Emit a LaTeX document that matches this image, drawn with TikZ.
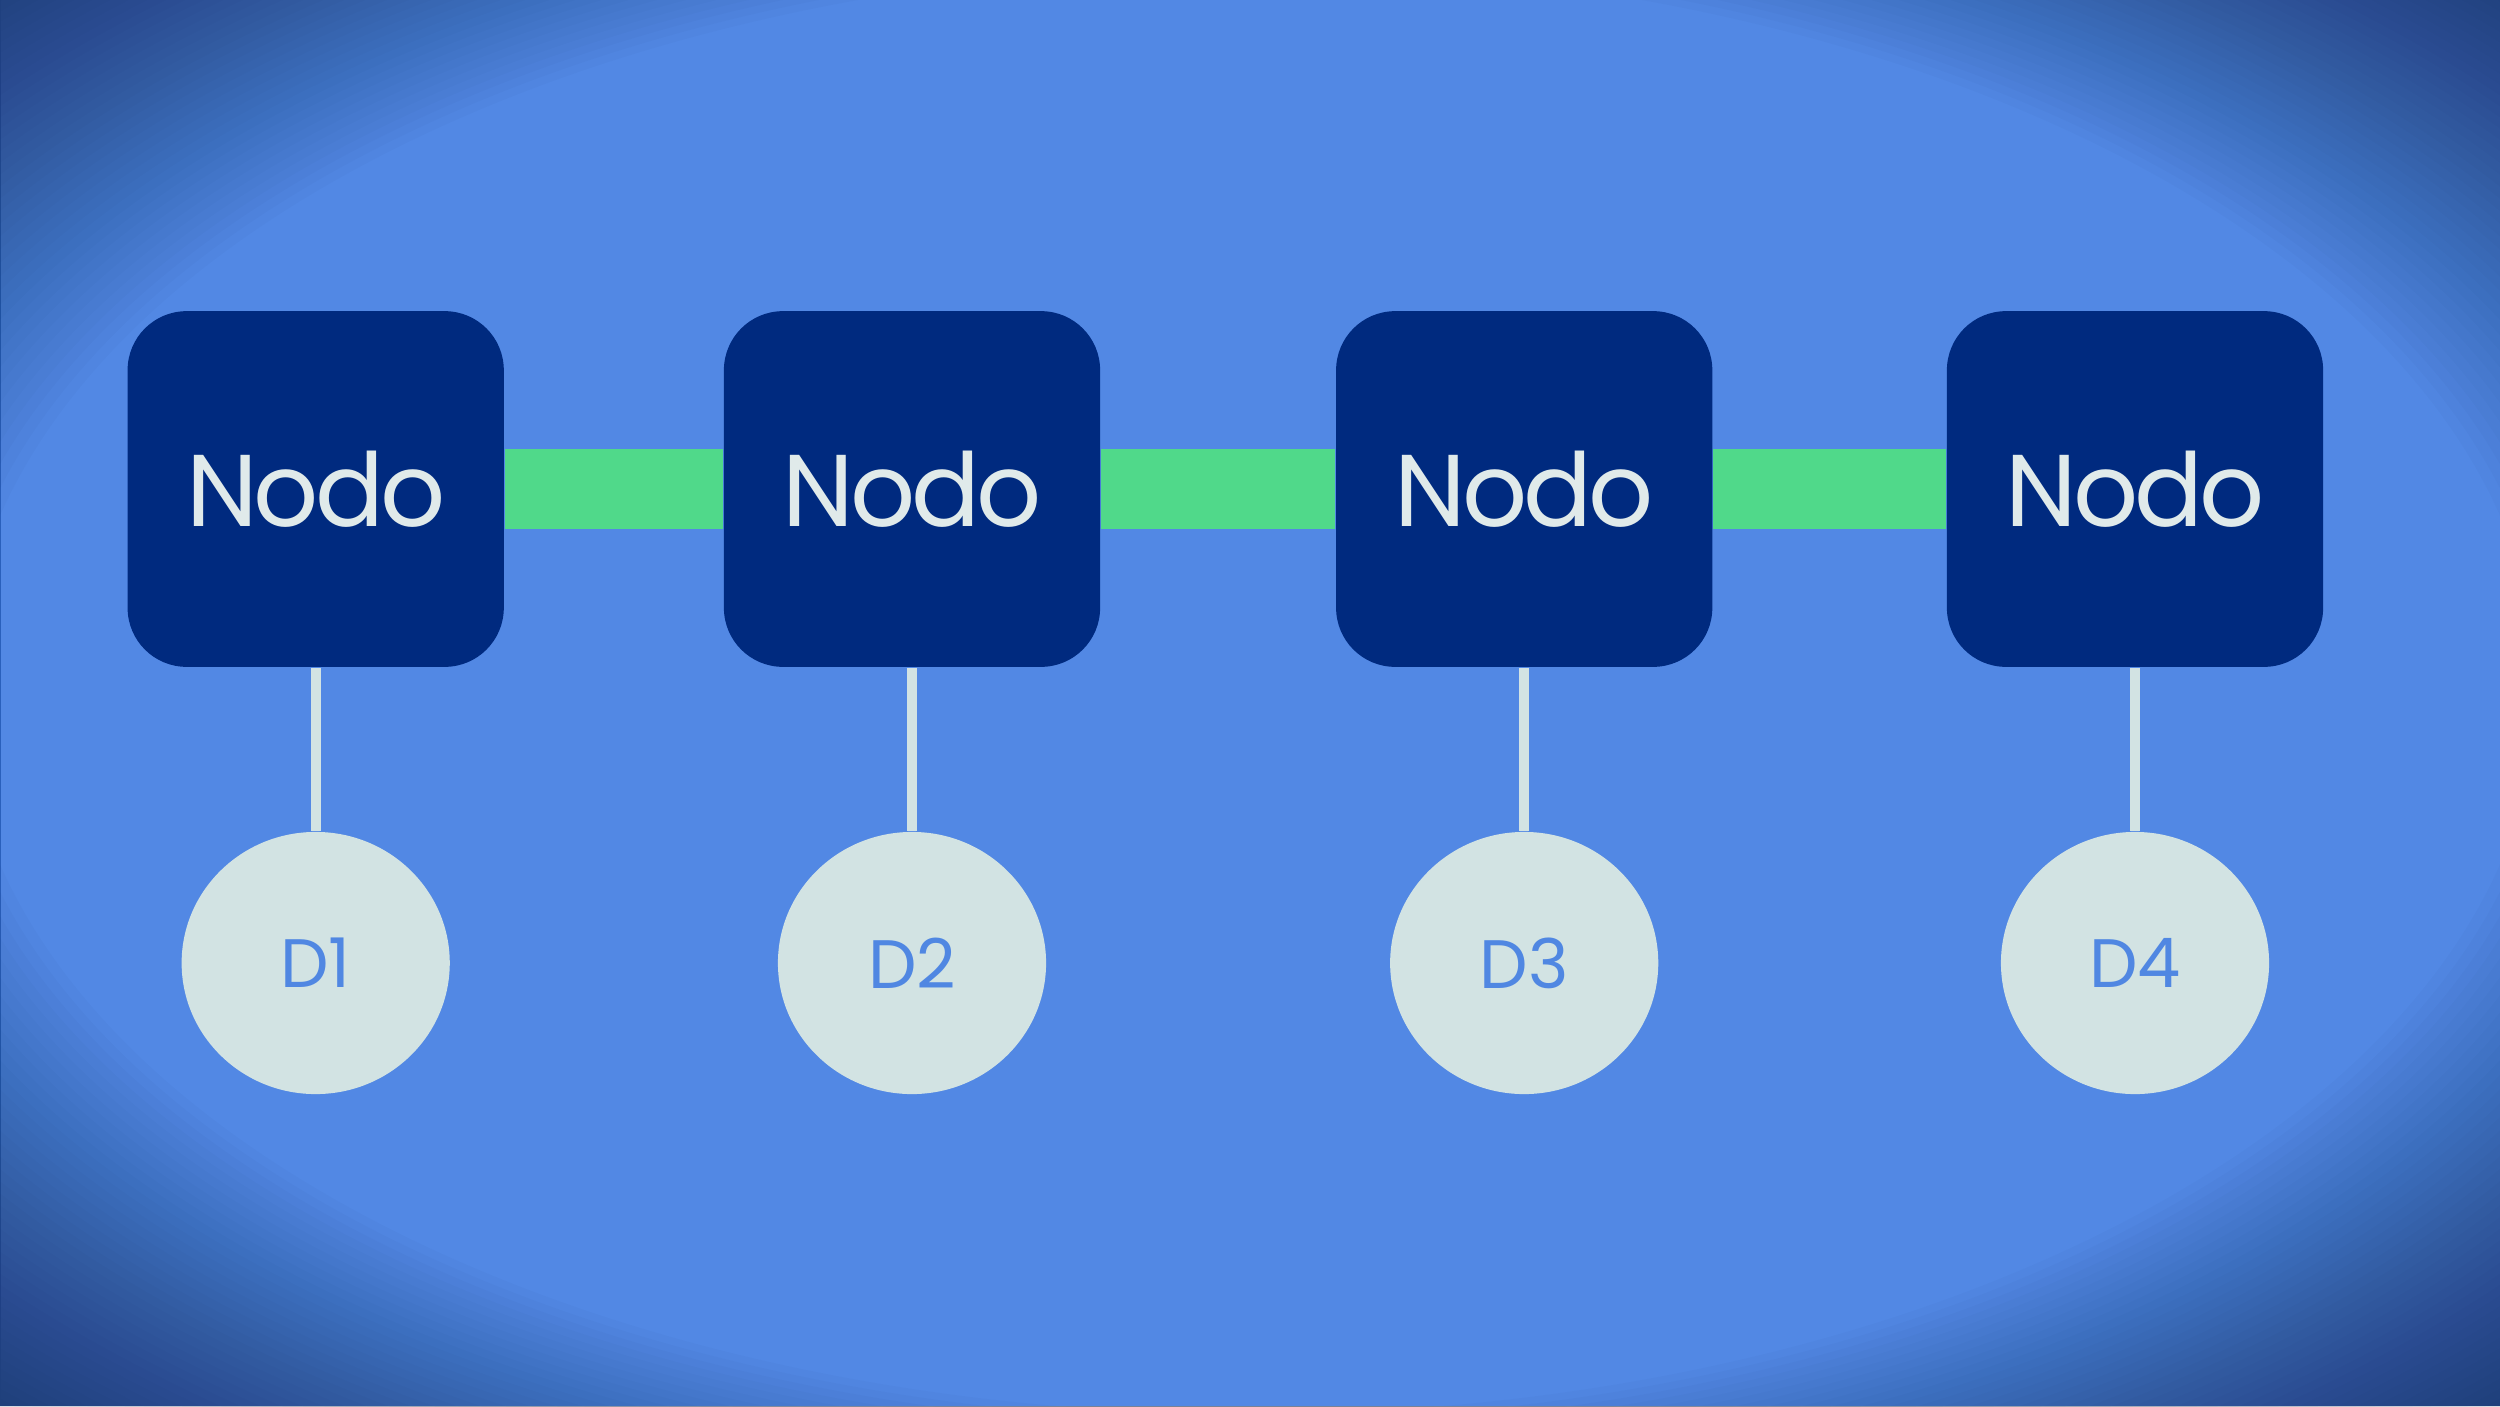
\documentclass[tikz,border=0pt]{standalone}
\usepackage{fontspec}
\setmainfont{Poppins}
\usetikzlibrary{shapes.geometric}
\definecolor{bgblue}{RGB}{82,136,228}
\definecolor{boxblue}{RGB}{0,42,127}
\definecolor{linkgreen}{RGB}{80,217,138}
\definecolor{paleteal}{RGB}{210,227,227}
\definecolor{nodotext}{RGB}{224,234,234}
\definecolor{dtext}{RGB}{80,135,226}
\definecolor{vigdark}{RGB}{10,25,60}
\tikzset{
  nodebox/.style={draw=none, fill=boxblue, rounded corners=0.59cm, minimum width=3.76cm, minimum height=3.555cm, inner sep=0pt, text=nodotext, font=\fontsize{29pt}{29pt}\selectfont\addfontfeatures{LetterSpace=-4}},
  dcircle/.style={ellipse, draw=none, fill=paleteal, minimum width=2.68cm, minimum height=2.62cm, inner sep=0pt, text=dtext, font=\fontsize{19.5pt}{19.5pt}\selectfont},
  greenlink/.style={draw=linkgreen, line width=0.8cm},
  stem/.style={draw=paleteal, line width=0.1cm},
  vig/.style={fill=vigdark, fill opacity=0.018, even odd rule}
}
\begin{document}
\begin{tikzpicture}[x=0.01cm,y=-0.01cm]
  \useasboundingbox (0,0) rectangle (2500,1406);
  \fill[bgblue] (0,0) rectangle (2500,1406);
  \foreach \r in {1.03,1.04,...,1.42}{
    \path[vig] (0,0) rectangle (2500,1406) (1250,690) ellipse [x radius=\r*1250, y radius=\r*703];
  }
  % nodes
  \node[nodebox] (n1) at (315.7,489) {Nodo};
  \node[nodebox] (n2) at (912,489) {Nodo};
  \node[nodebox] (n3) at (1524.2,489) {Nodo};
  \node[nodebox] (n4) at (2135,489) {Nodo};
  \node[dcircle] (d1) at (315.7,963) {D1};
  \node[dcircle] (d2) at (912,963) {D2};
  \node[dcircle] (d3) at (1524.2,963) {D3};
  \node[dcircle] (d4) at (2135,963) {D4};
  \draw[greenlink] (n1.east) -- (n2.west);
  \draw[greenlink] (n2.east) -- (n3.west);
  \draw[greenlink] (n3.east) -- (n4.west);
  \draw[stem] (n1.south) -- (d1.north);
  \draw[stem] (n2.south) -- (d2.north);
  \draw[stem] (n3.south) -- (d3.north);
  \draw[stem] (n4.south) -- (d4.north);
\end{tikzpicture}
\end{document}
